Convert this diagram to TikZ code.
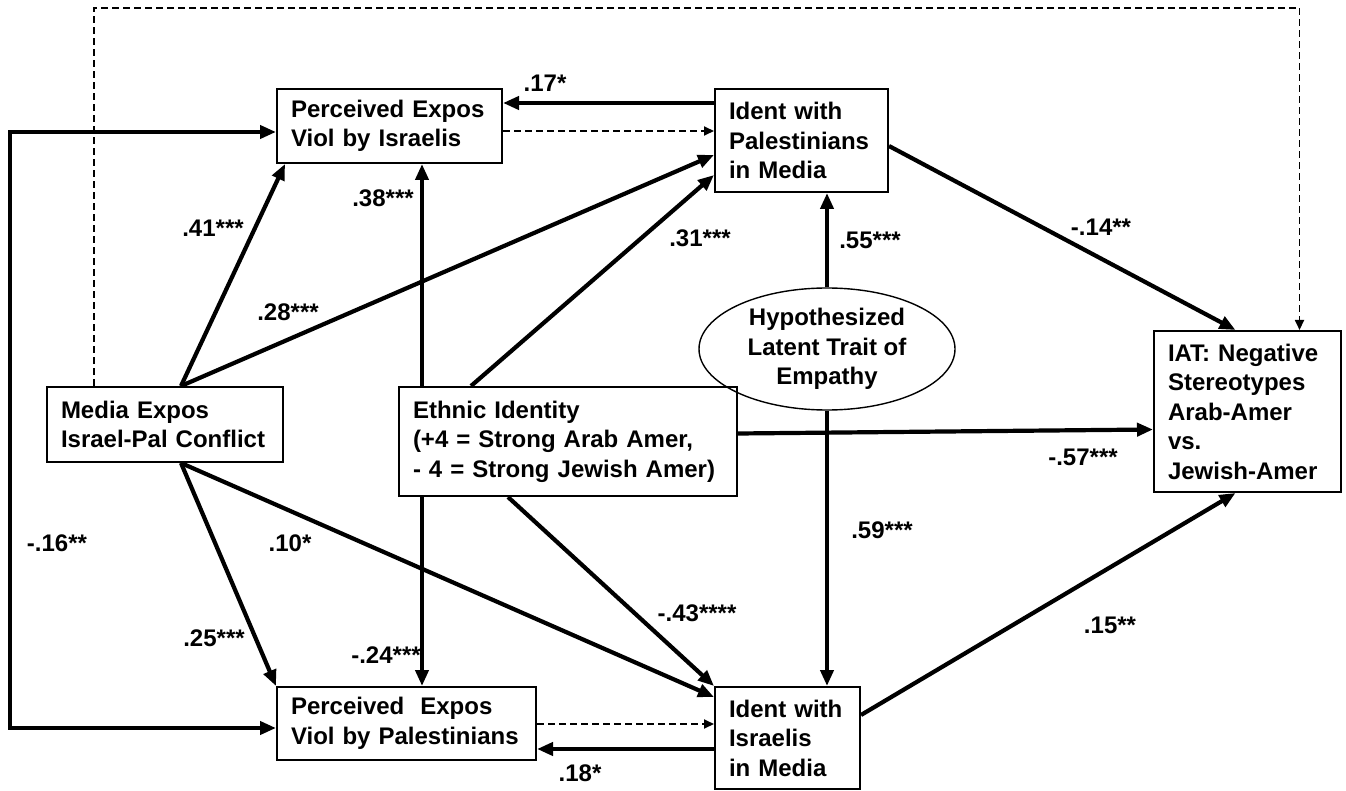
\documentclass[tikz,border=0pt]{standalone}
\usepackage{fontspec}
\setmainfont{Liberation Sans}
\usetikzlibrary{arrows.meta,shapes.geometric}

\begin{document}
\begin{tikzpicture}[x=1pt,y=-1pt,
  every node/.style={font=\fontsize{24}{29.5}\selectfont\bfseries},
  box/.style={draw, line width=2pt, align=left, inner xsep=14pt, inner ysep=0pt},
  strong/.style={line width=4.2pt, -{Triangle[length=16pt,width=13pt]}},
  weak/.style={line width=1.8pt, dash pattern=on 7pt off 4pt, -{Triangle[length=10pt,width=9pt]}}]
  \useasboundingbox (0,0) rectangle (1346,791);
  % Variables of the model.
  \node[box, text width=197pt, minimum height=74pt] (pevi) at (389.5,126)
    {Perceived Expos\\Viol by Israelis};
  \node[box, text width=145pt, minimum height=103pt] (ipal) at (801.5,140.5)
    {Ident with\\Palestinians\\in Media};
  \node[box, text width=208pt, minimum height=75pt] (media) at (165,424.5)
    {Media Expos\\Israel-Pal Conflict};
  \node[box, text width=310pt, minimum height=109pt] (ethnic) at (568,441.5)
    {Ethnic Identity\\(+4 = Strong Arab Amer,\\- 4 = Strong Jewish Amer)};
  \node[box, text width=159pt, minimum height=161pt] (iat) at (1247.5,411.5)
    {IAT: Negative\\Stereotypes\\Arab-Amer\\vs.\\Jewish-Amer};
  \node[box, text width=231pt, minimum height=73pt] (ppal) at (406.5,723.5)
    {Perceived~ Expos\\Viol by Palestinians};
  \node[box, text width=117pt, minimum height=102pt] (iisr) at (787.5,738)
    {Ident with\\Israelis\\in Media};
  % The latent trait.
  \node[draw, ellipse, line width=1.4pt, align=center, inner sep=0pt,
    minimum width=256pt, minimum height=122pt] (empathy) at (827,349)
    {Hypothesized\\Latent Trait of\\Empathy};
  % Dashed direct paths.
  \draw[weak] ([xshift=48pt]media.north west) -- ++(0,-378)
    -| ([xshift=52pt]iat.north);
  \draw[weak] (pevi.east |- 0,131) -- (ipal.west |- 0,131);
  \draw[weak] (ppal.east |- 0,724) -- (iisr.west |- 0,724);
  % Paths out of media exposure.
  \coordinate (rail) at (10,430);
  \draw[strong, {Triangle[length=16pt,width=13pt]}-{Triangle[length=16pt,width=13pt]}]
    ([yshift=-6pt]pevi.west) -| (rail) |- ([yshift=-4.5pt]ppal.west);
  \draw[strong] ([xshift=16pt]media.north) -- ([xshift=9pt]pevi.south west);
  \draw[strong] ([xshift=16pt]media.north) -- (ipal.west |- 0,155);
  \draw[strong] ([xshift=16pt]media.south) -- (ppal.north west);
  \draw[strong] ([xshift=16pt]media.south) -- ([yshift=-11pt]iisr.north west);
  % Paths out of ethnic identity.
  \draw[strong] (ethnic.north -| 422,0) -- (pevi.south -| 422,0);
  \draw[strong] (ethnic.south -| 422,0) -- (ppal.north -| 422,0);
  \draw[strong] ([xshift=73pt]ethnic.north west) -- (ipal.west |- 0,175);
  \draw[strong] ([xshift=110pt]ethnic.south west) -- (iisr.north west);
  \draw[strong] ([yshift=8pt]ethnic.east) -- ([yshift=-18pt]iat.west);
  % Paths out of the latent trait.
  \draw[strong] (empathy.north) -- (ipal.south -| empathy.north);
  \draw[strong] (empathy.south) -- (iisr.north -| empathy.south);
  % Paths between identification and perceived violence.
  \draw[strong] (ipal.west |- 0,103) -- (pevi.east |- 0,103);
  \draw[strong] (iisr.west |- 0,749) -- (ppal.east |- 0,749);
  % Paths into the IAT.
  \draw[strong] ([yshift=-5.5pt]ipal.east) -- ([xshift=-12pt]iat.north);
  \draw[strong] ([yshift=23pt]iisr.east) -- ([xshift=-12pt]iat.south);
  % Path coefficients.
  \node (c17) at (545,83) {.17*};
  \node (c41) at (213,228) {.41***};
  \node (c38) at (383,198) {.38***};
  \node (c28) at (288,312) {.28***};
  \node (c31) at (700,238) {.31***};
  \node (c55) at (870,240) {.55***};
  \node (c14) at (1101,227) {-.14**};
  \node (c57) at (1083,457) {-.57***};
  \node (c59) at (882,530) {.59***};
  \node (c16) at (57,543) {-.16**};
  \node (c10) at (290,543) {.10*};
  \node (c25) at (214,638) {.25***};
  \node (c24) at (386,655) {-.24***};
  \node (c43) at (697,613) {-.43****};
  \node (c15) at (1110,625) {.15**};
  \node (c18) at (580,773) {.18*};
\end{tikzpicture}
\end{document}
